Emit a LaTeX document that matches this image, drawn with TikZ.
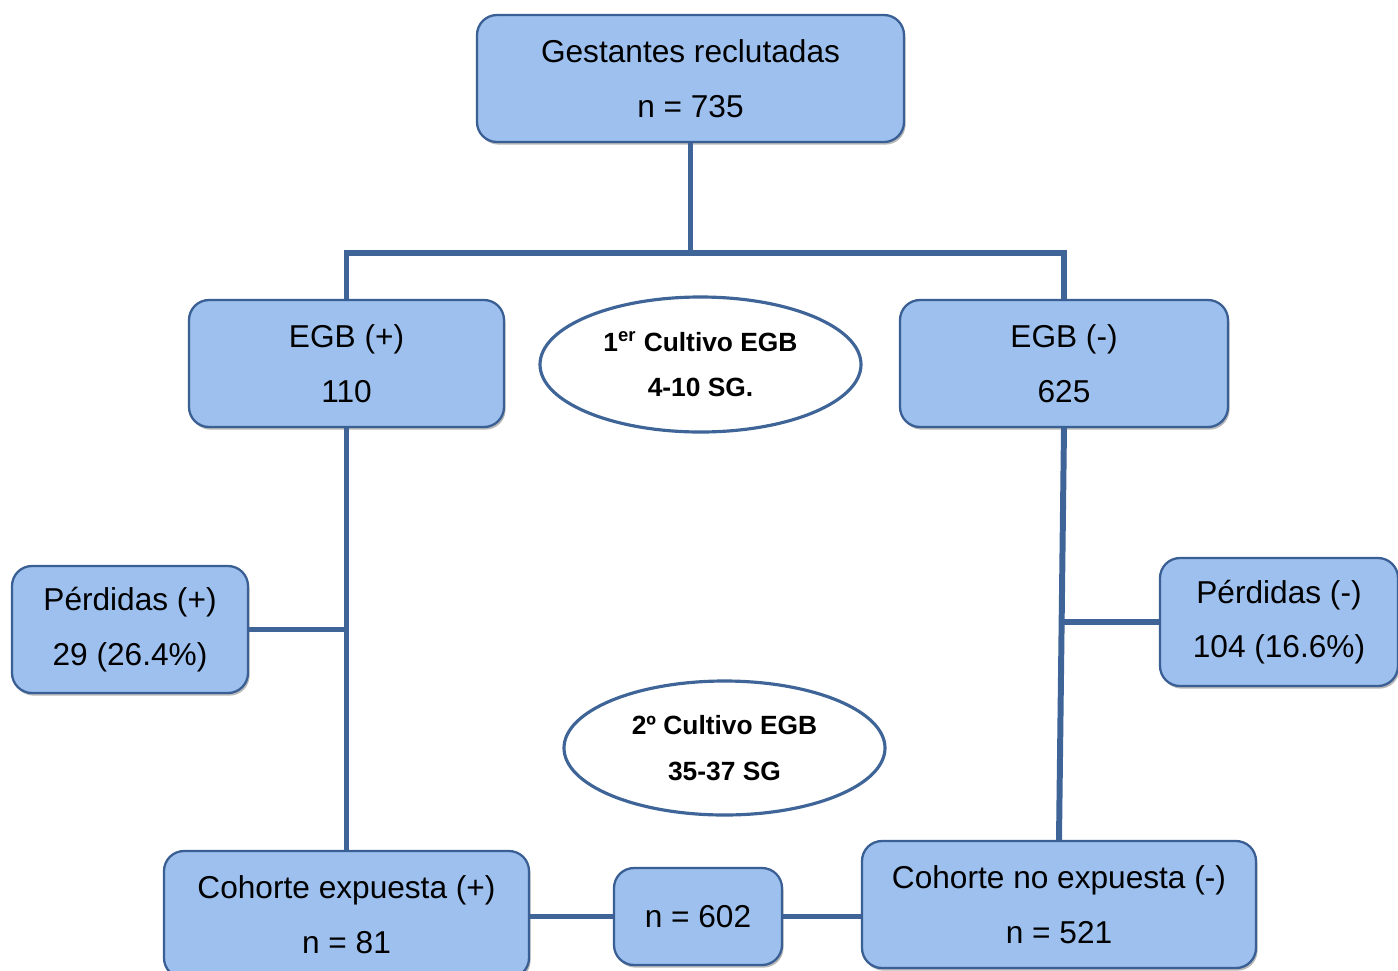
\documentclass[tikz,border=0pt]{standalone}
\usepackage{fontspec}
\setmainfont{Liberation Sans}
\usetikzlibrary{shapes.geometric,shadows}
\definecolor{boxfill}{HTML}{9DC0EE}
\definecolor{boxedge}{HTML}{3A5F94}
\definecolor{linkblue}{HTML}{3E6498}
\tikzset{
  caja/.style={rectangle, rounded corners=0.4cm, fill=boxfill, draw=boxedge,
    line width=1.3pt, align=center, inner sep=0pt,
    font=\fontsize{18}{31}\selectfont,
    drop shadow={shadow xshift=0.9pt, shadow yshift=-1.5pt, fill=black!55}},
  cultivo/.style={ellipse, draw=linkblue, line width=1.8pt, fill=white,
    align=center, inner sep=0pt, font=\bfseries\fontsize{15}{26}\selectfont},
  enlace/.style={draw=linkblue, line width=3.4pt}
}
\begin{document}
\begin{tikzpicture}
	\useasboundingbox (0,0) rectangle (27.96,-19.42);

	% recruitment and first culture
	\node[caja, minimum width=8.54cm, minimum height=2.54cm] (reclut) at (13.81,-1.57) {Gestantes reclutadas\\n = 735};
	\node[caja, minimum width=6.3cm, minimum height=2.54cm] (egbpos) at (6.93,-7.27) {EGB (+)\\110};
	\node[caja, minimum width=6.56cm, minimum height=2.54cm] (egbneg) at (21.28,-7.27) {EGB (-)\\625};
	\node[cultivo, minimum width=6.42cm, minimum height=2.7cm] (cult1) at (14.01,-7.29) {1\textsuperscript{er} Cultivo EGB\\4-10 SG.};

	% losses
	\node[caja, minimum width=4.72cm, minimum height=2.54cm] (perdpos) at (2.6,-12.59) {Pérdidas (+)\\29 (26.4\%)};
	\node[caja, minimum width=4.76cm, minimum height=2.56cm] (perdneg) at (25.58,-12.44) {Pérdidas (-)\\104 (16.6\%)};
	\node[cultivo, minimum width=6.42cm, minimum height=2.68cm] (cult2) at (14.49,-14.96) {2º Cultivo EGB\\35-37 SG};

	% cohorts
	\node[caja, minimum width=7.3cm, minimum height=2.54cm] (cohpos) at (6.93,-18.29) {Cohorte expuesta (+)\\n = 81};
	\node[caja, minimum width=3.36cm, minimum height=1.94cm] (total) at (13.96,-18.33) {n = 602};
	\node[caja, minimum width=7.88cm, minimum height=2.54cm] (cohneg) at (21.18,-18.09) {Cohorte no expuesta (-)\\n = 521};

	\coordinate (split) at (13.81,-5.06);
	\draw[enlace] (reclut.south) -- (split);
	\draw[enlace] (egbpos.north) |- (split) -| (egbneg.north);
	\draw[enlace] (egbpos.south) -- (cohpos.north);
	\draw[enlace] (egbneg.south) -- (cohneg.north);
	\draw[enlace] (perdpos.east) -- (perdpos.east -| egbpos.south);
	\draw[enlace] (perdneg.west) -- (perdneg.west -| egbneg.south);
	\draw[enlace] (cohpos.east |- total.west) -- (total.west);
	\draw[enlace] (total.east) -- (total.east -| cohneg.west);
\end{tikzpicture}
\end{document}
